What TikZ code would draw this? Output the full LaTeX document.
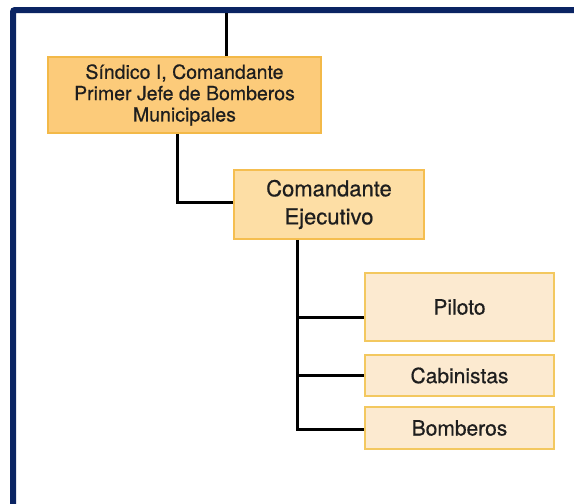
\documentclass[tikz,border=0pt]{standalone}
\usepackage{fontspec}
\setmainfont{TeX Gyre Heros}
\newfontfamily\rotulo{TeX Gyre Heros}[FakeBold=0.6]
\usepackage{xcolor}
\usepackage{tikz}
\definecolor{marco}{RGB}{10,36,99}
\definecolor{fondoA}{RGB}{252,203,122}
\definecolor{bordeA}{RGB}{243,185,72}
\definecolor{fondoB}{RGB}{253,222,165}
\definecolor{bordeB}{RGB}{245,190,80}
\definecolor{fondoC}{RGB}{252,234,208}
\definecolor{bordeC}{RGB}{243,200,95}
\definecolor{texto}{RGB}{30,30,30}
\tikzset{
 jefe/.style={draw=bordeA, fill=fondoA, line width=1.5pt, text=texto, align=center, inner sep=0pt,
  minimum width=273pt, minimum height=76pt, font=\rotulo\fontsize{19.5}{21.3}\selectfont},
 ejec/.style={draw=bordeB, fill=fondoB, line width=1.5pt, text=texto, align=center, inner sep=0pt,
  minimum width=190pt, minimum height=69pt, font=\rotulo\fontsize{22}{28}\selectfont},
 cargo/.style={draw=bordeC, fill=fondoC, line width=1.5pt, text=texto, inner sep=0pt,
  minimum width=189pt, font=\rotulo\fontsize{21}{25}\selectfont},
 linea/.style={line width=3pt, black}
}

\begin{document}
\begin{tikzpicture}[x=1pt, y=-1pt]
 \useasboundingbox (0,0) rectangle (574,504);
 \fill[white] (0,0) rectangle (574,504);
 \draw[marco, line width=6pt, rounded corners=2pt] (13,510) -- (13,10) -- (580,10);
 %cajas
 \node[jefe] (sindico) at (184.5,95) {Síndico I, Comandante\\Primer Jefe de Bomberos\\Municipales};
 \node[ejec] (ejecutivo) at (329,204.5) {Comandante\\Ejecutivo};
 \node[cargo, minimum height=68pt] (piloto) at (459.5,307) {Piloto};
 \node[cargo, minimum height=41pt] (cabinistas) at (459.5,375.5) {Cabinistas};
 \node[cargo, minimum height=42pt] (bomberos) at (459.5,428) {Bomberos};
 %lineas
 \coordinate (arriba) at (226,13);
 \draw[linea] (arriba) -- (arriba |- sindico.north);
 \draw[linea] ([xshift=-7.5pt]sindico.south) |- ([yshift=2.5pt]ejecutivo.west);
 \coordinate (eje) at ([xshift=-32pt]ejecutivo.south);
 \coordinate (rama) at ([yshift=-10pt]piloto.west);
 \draw[linea] (eje) |- ([yshift=-1pt]bomberos.west);
 \draw[linea] (eje |- cabinistas.west) -- (cabinistas.west);
 \draw[linea] (eje |- rama) -- (rama);
\end{tikzpicture}
\end{document}
